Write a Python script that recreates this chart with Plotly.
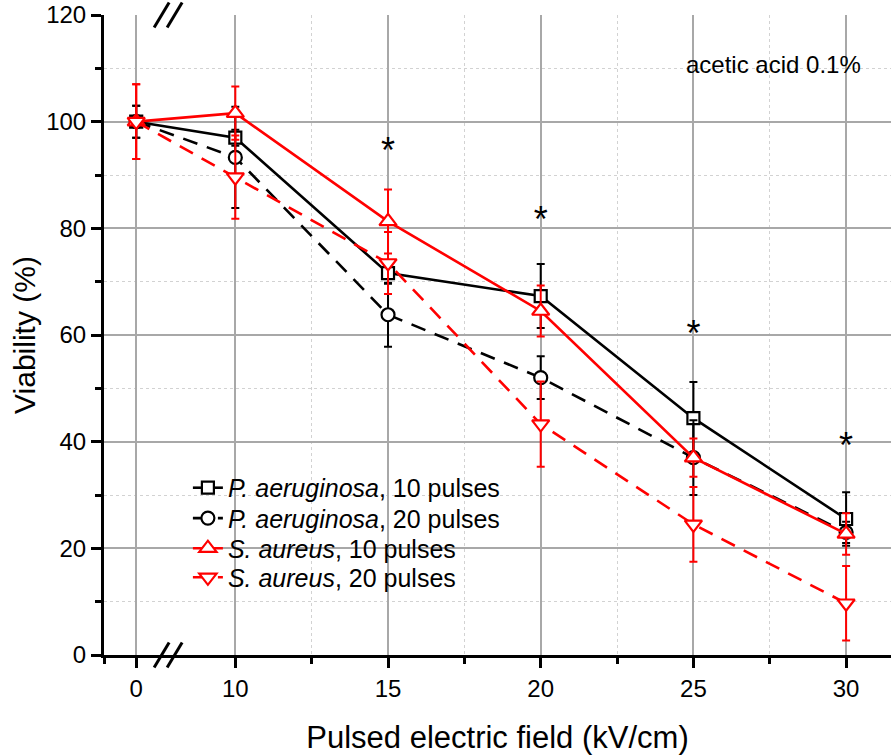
import plotly.graph_objects as go

# ---------------- data ----------------
field_kv = [0, 10, 15, 20, 25, 30]

pa10 = [100, 97.0, 71.6, 67.3, 44.4, 25.5]
pa10_err = [3.0, 1.5, 2.0, 6.0, 6.8, 5.0]

pa20 = [100, 93.3, 63.8, 52.0, 37.0, 23.0]
pa20_err = [3.0, 9.5, 6.0, 4.0, 7.0, 2.0]

sa10 = [100, 101.6, 81.3, 64.5, 37.0, 22.7]
sa10_err = [7.0, 5.0, 6.0, 4.8, 3.6, 3.9]

sa20 = [100, 89.6, 73.5, 43.3, 24.5, 9.7]
sa20_err = [7.0, 7.8, 5.8, 8.0, 7.0, 7.0]

star_kv = [15, 20, 25, 30]
star_y = [94.0, 81.0, 59.6, 38.6]

x_tick_kv = [0, 10, 15, 20, 25, 30]
x_minor_kv = [12.5, 17.5, 22.5, 27.5]
y_ticks = [0, 20, 40, 60, 80, 100, 120]
y_minor = [10, 30, 50, 70, 90, 110]

series_names = [
    "<i>P. aeruginosa</i>, 10 pulses",
    "<i>P. aeruginosa</i>, 20 pulses",
    "<i>S. aureus</i>, 10 pulses",
    "<i>S. aureus</i>, 20 pulses",
]

# ---------------- broken x-axis scale ----------------
ZERO_POS = 6.755      # axis coordinate where 0 kV/cm is drawn (left of the break)
X_MIN, X_MAX = 5.70, 31.47
BREAK_POS = 7.80


def axis_pos(kv):
    return ZERO_POS if kv == 0 else kv


xs = [axis_pos(v) for v in field_kv]

FONT = "Liberation Sans, Arial, sans-serif"
BLACK = "black"
RED = "#ff0000"
DASH = "15px,10px"

fig = go.Figure()

legend_ids = ["legend", "legend2", "legend3", "legend4"]
legend_rows = [0.261, 0.2135, 0.1665, 0.121]


def add_series(y, err, name, color, dash, symbol, size, legend_id):
    fig.add_trace(go.Scatter(
        x=xs, y=y, name=name, mode="lines+markers", legend=legend_id,
        line=dict(color=color, width=2.6, dash=dash),
        marker=dict(symbol=symbol, size=size, color="white",
                    line=dict(color=color, width=2.2)),
        error_y=dict(type="data", array=err, visible=True,
                     color=color, thickness=2, width=4),
    ))


add_series(pa10, pa10_err, series_names[0], BLACK, "solid", "square", 12, legend_ids[0])
add_series(pa20, pa20_err, series_names[1], BLACK, DASH, "circle", 13, legend_ids[1])
add_series(sa10, sa10_err, series_names[2], RED, "solid", "triangle-up", 15, legend_ids[2])
add_series(sa20, sa20_err, series_names[3], RED, DASH, "triangle-down", 15, legend_ids[3])

fig.add_trace(go.Scatter(
    x=[axis_pos(v) for v in star_kv], y=star_y, mode="text", text=["*"] * len(star_kv),
    textfont=dict(family=FONT, size=36, color=BLACK), showlegend=False, hoverinfo="skip",
))

grid_major = "#a8a8a8"
grid_minor = "#d2d2d2"

legend_style = dict(xanchor="left", yanchor="middle", bgcolor="rgba(0,0,0,0)",
                    borderwidth=0, font=dict(family=FONT, size=25, color=BLACK),
                    itemwidth=30)

fig.update_layout(
    width=896, height=756,
    margin=dict(l=104, r=5, t=15, b=101),
    paper_bgcolor="white", plot_bgcolor="white",
    font=dict(family=FONT, size=24, color=BLACK),
    showlegend=True,
    xaxis=dict(
        range=[X_MIN, X_MAX], tickmode="array", automargin=False,
        tickvals=[axis_pos(v) for v in x_tick_kv], ticktext=[str(v) for v in x_tick_kv],
        ticks="outside", ticklen=10, tickwidth=3, tickcolor=BLACK,
        showline=True, linewidth=3, linecolor=BLACK, mirror=False,
        showgrid=True, gridcolor=grid_major, gridwidth=1.5,
        zeroline=False, ticklabeloverflow="allow",
        tickfont=dict(family=FONT, size=24, color=BLACK),
        minor=dict(tickmode="array", tickvals=[X_MIN + 0.001] + x_minor_kv,
                   ticks="outside", ticklen=6, tickwidth=3, tickcolor=BLACK,
                   showgrid=True, gridcolor=grid_minor, griddash="dot", gridwidth=1),
        title=dict(text="Pulsed electric field (kV/cm)", standoff=26,
                   font=dict(family=FONT, size=31, color=BLACK)),
    ),
    yaxis=dict(
        range=[0, 120], tickmode="array", tickvals=y_ticks, automargin=False,
        ticks="outside", ticklen=10, tickwidth=3, tickcolor=BLACK,
        showline=True, linewidth=3, linecolor=BLACK, mirror=False,
        showgrid=True, gridcolor=grid_major, gridwidth=1.5,
        zeroline=False, ticklabeloverflow="allow",
        tickfont=dict(family=FONT, size=24, color=BLACK),
        minor=dict(tickmode="array", tickvals=y_minor,
                   ticks="outside", ticklen=6, tickwidth=3, tickcolor=BLACK,
                   showgrid=True, gridcolor=grid_minor, griddash="dot", gridwidth=1),
        title=dict(text="Viability (%)", standoff=2,
                   font=dict(family=FONT, size=30, color=BLACK)),
    ),
    xaxis2=dict(
        overlaying="x", matches="x", side="top", anchor="y", automargin=False,
        range=[X_MIN, X_MAX], tickmode="array",
        tickvals=[axis_pos(v) for v in x_tick_kv], showticklabels=False,
        ticks="inside", ticklen=12, tickwidth=3, tickcolor=BLACK,
        showline=True, linewidth=3, linecolor=BLACK, showgrid=False, zeroline=False,
        minor=dict(tickmode="array", tickvals=x_minor_kv, ticks="inside",
                   ticklen=6, tickwidth=3, tickcolor=BLACK, showgrid=False),
    ),
    yaxis2=dict(
        overlaying="y", matches="y", side="right", anchor="x", automargin=False,
        range=[0, 120], tickmode="array", tickvals=y_ticks, showticklabels=False,
        ticks="inside", ticklen=12, tickwidth=3, tickcolor=BLACK,
        showline=True, linewidth=3, linecolor=BLACK, showgrid=False, zeroline=False,
        minor=dict(tickmode="array", tickvals=y_minor, ticks="inside",
                   ticklen=6, tickwidth=3, tickcolor=BLACK, showgrid=False),
    ),
)

for lid, ly in zip(legend_ids, legend_rows):
    fig.update_layout({lid: dict(x=0.1066, y=ly, **legend_style)})

# axis-break marks "//" on bottom and top axes
for yanchor in (0, 1):
    for dx in (-14, -1):
        fig.add_shape(type="line", xref="x", yref="paper",
                      xsizemode="pixel", ysizemode="pixel",
                      xanchor=BREAK_POS, yanchor=yanchor,
                      x0=dx, x1=dx + 15, y0=-12.5, y1=12.5,
                      line=dict(color=BLACK, width=3))

fig.add_annotation(text="acetic acid 0.1%", xref="paper", yref="paper",
                   x=0.965, y=0.922, xanchor="right", yanchor="middle",
                   showarrow=False, font=dict(family=FONT, size=24, color=BLACK))

# remove the browser's default 8px body margin so the figure fills the window
fig.write_html("out.html", config={"displayModeBar": False},
               post_script="document.body.style.margin='0px';")
